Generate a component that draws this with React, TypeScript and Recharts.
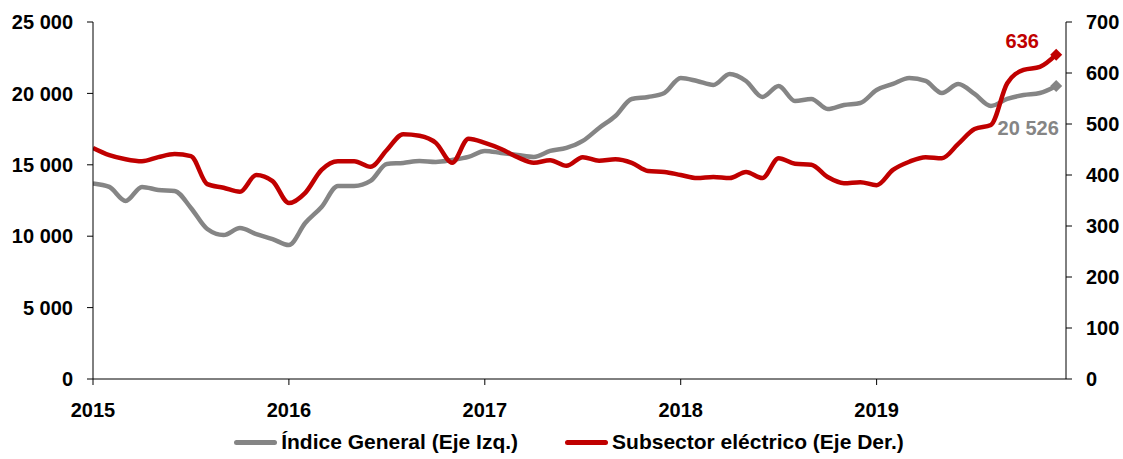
import { LineChart, Line, XAxis, YAxis, Legend } from 'recharts';

const yearTicks = [0, 12, 24, 36, 48];
const yearLabels = ['2015', '2016', '2017', '2018', '2019'];
const leftTicks = [0, 5000, 10000, 15000, 20000, 25000];
const rightTicks = [0, 100, 200, 300, 400, 500, 600, 700];

// monthly values, Jan 2015 .. Dec 2019
const indiceGeneral = [
  13700, 13450, 12470, 13450, 13240, 13170, 11980, 10500, 10080, 10570, 10150, 9800,
  9380, 10920, 12050, 13520, 13520, 13870, 15060, 15130, 15270, 15200, 15340, 15550,
  15970, 15830, 15690, 15550, 15970, 16180, 16670, 17580, 18420, 19610, 19750, 20030,
  21080, 20870, 20590, 21360, 20870, 19750, 20520, 19470, 19610, 18910, 19190, 19330,
  20240, 20660, 21080, 20870, 20030, 20660, 19960, 19120, 19610, 19890, 20030, 20526,
];

const subsectorElectrico = [
  453, 439, 431, 427, 435, 441, 437, 382, 375, 367, 400, 388,
  345, 365, 410, 427, 427, 416, 449, 480, 477, 463, 424, 471,
  463, 451, 435, 424, 429, 418, 435, 428, 431, 424, 408, 406,
  400, 394, 396, 394, 406, 394, 433, 422, 420, 396, 384, 386,
  380, 410, 426, 435, 433, 461, 490, 498, 580, 606, 612, 636,
];

const data = indiceGeneral.map((v, i) => ({
  month: i,
  general: v,
  electrico: subsectorElectrico[i],
}));

const GRAY = '#858585';
const RED = '#C00000';
const FONT = '"Liberation Sans", Arial, sans-serif';

const fmt = (v: number) => String(v).replace(/\B(?=(\d{3})+(?!\d))/g, ' ');

const tickStyle = { fill: '#000', fontSize: 20, fontWeight: 700, fontFamily: FONT };

const endDot = (color: string, dx: number, dy: number) => (props: any) => {
  const { cx, cy, index, value } = props;
  if (index !== data.length - 1) return <g key={`d-${index}`} />;
  const s = 6;
  return (
    <g key={`d-${index}`}>
      <path d={`M${cx},${cy - s}L${cx + s},${cy}L${cx},${cy + s}L${cx - s},${cy}Z`} fill={color} />
      <text
        x={cx + dx}
        y={cy + dy}
        textAnchor="middle"
        dominantBaseline="central"
        fill={color}
        fontSize={20}
        fontWeight={700}
        fontFamily={FONT}
      >
        {fmt(Array.isArray(value) ? value[1] : value)}
      </text>
    </g>
  );
};

const LegendContent = () => (
  <div
    style={{
      height: 30,
      display: 'flex',
      justifyContent: 'center',
      alignItems: 'center',
      paddingLeft: 15,
      boxSizing: 'border-box',
      fontFamily: FONT,
      fontWeight: 700,
      fontSize: 21,
      color: '#000',
    }}
  >
    {[
      { name: 'Índice General (Eje Izq.)', color: GRAY },
      { name: 'Subsector eléctrico (Eje Der.)', color: RED },
    ].map((item, i) => (
      <div key={item.name} style={{ display: 'flex', alignItems: 'center', marginLeft: i ? 47 : 0 }}>
        <div style={{ width: 43, height: 5, borderRadius: 3, background: item.color, marginRight: 4 }} />
        <span>{item.name}</span>
      </div>
    ))}
  </div>
);

export default function App() {
  return (
    <div style={{ position: 'absolute', left: 0, top: 0, background: '#fff' }}>
      <LineChart
        width={1123}
        height={459}
        data={data}
        margin={{ top: 22, right: 0, left: 0, bottom: 2 }}
        style={{ overflow: 'visible' }}
      >
        <XAxis
          dataKey="month"
          type="number"
          domain={[0, 59.6]}
          allowDataOverflow
          ticks={yearTicks}
          tickFormatter={(v: number) => yearLabels[yearTicks.indexOf(v)]}
          height={48}
          tick={tickStyle}
          tickSize={6}
          tickMargin={18}
          axisLine={{ stroke: '#000' }}
          tickLine={{ stroke: '#000' }}
        />
        <YAxis
          yAxisId="left"
          orientation="left"
          width={93}
          domain={[0, 25000]}
          ticks={leftTicks}
          tickFormatter={fmt}
          tick={tickStyle}
          tickSize={6}
          tickMargin={14}
          axisLine={{ stroke: '#000' }}
          tickLine={{ stroke: '#000' }}
        />
        <YAxis
          yAxisId="right"
          orientation="right"
          width={57}
          domain={[0, 700]}
          ticks={rightTicks}
          tick={tickStyle}
          tickSize={6}
          tickMargin={14}
          axisLine={{ stroke: '#000' }}
          tickLine={{ stroke: '#000' }}
        />
        <Legend verticalAlign="bottom" content={<LegendContent />} wrapperStyle={{ height: 30 }} />
        <Line
          yAxisId="left"
          type="monotone"
          dataKey="general"
          name="Índice General (Eje Izq.)"
          stroke={GRAY}
          strokeWidth={4.5}
          dot={endDot(GRAY, -28, 42)}
          activeDot={false}
          isAnimationActive={false}
        />
        <Line
          yAxisId="right"
          type="monotone"
          dataKey="electrico"
          name="Subsector eléctrico (Eje Der.)"
          stroke={RED}
          strokeWidth={4.5}
          dot={endDot(RED, -34, -14)}
          activeDot={false}
          isAnimationActive={false}
        />
      </LineChart>
    </div>
  );
}
